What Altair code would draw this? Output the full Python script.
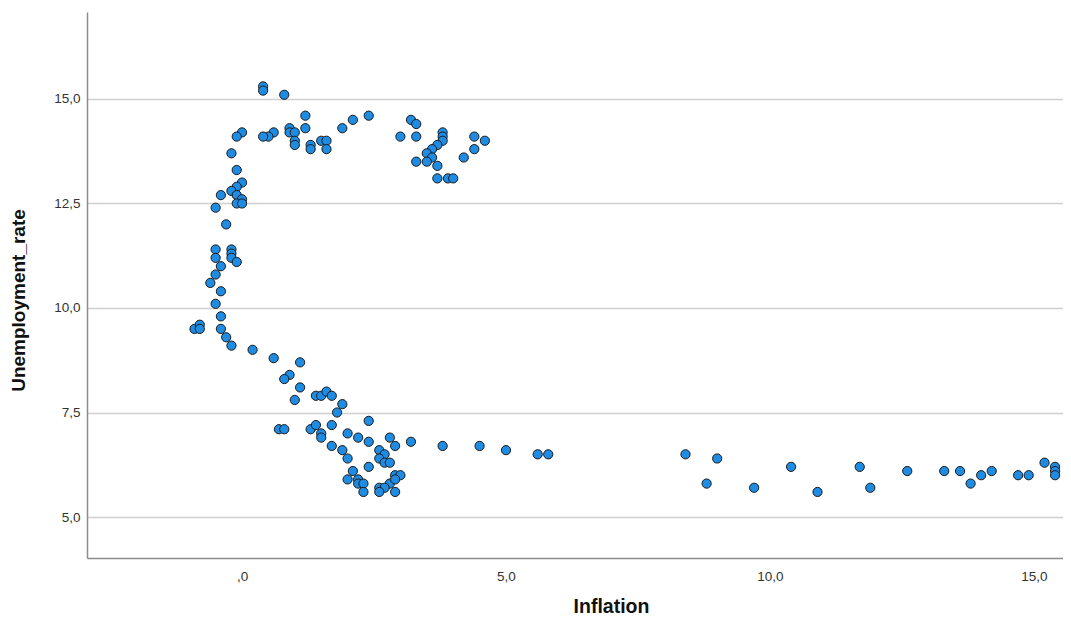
import altair as alt
import pandas as pd

inflation = [
    0.4, 0.4, 0.8,
    1.2, 1.2, 0.9, 0.9, 1.0, 1.0, 1.0,
    0.6, 0.5, 0.4, 0.0, -0.1,
    1.3, 1.3, 1.5, 1.6, 1.6,
    1.9, 2.1, 2.4,
    -0.2, -0.1, 0.0, -0.1, -0.2, -0.4, -0.1, 0.0, -0.1, 0.0,
    -0.5, -0.3,
    -0.5, -0.5, -0.2, -0.2, -0.2, -0.1,
    -0.4, -0.5, -0.6, -0.4, -0.5, -0.4,
    -0.9, -0.8, -0.8, -0.4, -0.3, -0.2, 0.2,
    0.6, 1.1, 0.9, 0.8, 1.1, 1.0,
    1.4, 1.5, 1.6, 1.7, 1.9, 1.8, 2.4,
    0.7, 0.8, 1.3, 1.4, 1.5, 1.5, 1.7,
    2.0, 2.2, 2.4, 2.8, 2.9, 3.2,
    1.7, 1.9, 2.0,
    2.6, 2.7, 2.6, 2.7, 2.8,
    2.4, 2.1, 2.0, 2.2, 2.2, 2.3, 2.3,
    2.9, 3.0, 2.8, 2.9, 2.6, 2.7, 2.6, 2.9,
    3.2, 3.3, 3.0, 3.3, 3.8, 3.8, 3.8, 3.7, 3.6, 3.5, 3.6, 3.3, 3.5, 3.7,
    3.7, 3.9, 4.0, 4.2, 4.4, 4.6, 4.4,
    3.8, 4.5, 5.0, 5.6, 5.8, 8.4, 9.0, 8.8,
    9.7, 10.4, 10.9, 11.7, 11.9, 12.6, 13.3, 13.6, 13.8, 14.0, 14.2,
    14.7, 14.9, 15.2, 15.4, 15.4, 15.4,
]

unemployment_rate = [
    15.3, 15.2, 15.1,
    14.6, 14.3, 14.3, 14.2, 14.2, 14.0, 13.9,
    14.2, 14.1, 14.1, 14.2, 14.1,
    13.9, 13.8, 14.0, 14.0, 13.8,
    14.3, 14.5, 14.6,
    13.7, 13.3, 13.0, 12.9, 12.8, 12.7, 12.7, 12.6, 12.5, 12.5,
    12.4, 12.0,
    11.4, 11.2, 11.4, 11.3, 11.2, 11.1,
    11.0, 10.8, 10.6, 10.4, 10.1, 9.8,
    9.5, 9.6, 9.5, 9.5, 9.3, 9.1, 9.0,
    8.8, 8.7, 8.4, 8.3, 8.1, 7.8,
    7.9, 7.9, 8.0, 7.9, 7.7, 7.5, 7.3,
    7.1, 7.1, 7.1, 7.2, 7.0, 6.9, 7.2,
    7.0, 6.9, 6.8, 6.9, 6.7, 6.8,
    6.7, 6.6, 6.4,
    6.6, 6.5, 6.4, 6.3, 6.3,
    6.2, 6.1, 5.9, 5.9, 5.8, 5.8, 5.6,
    6.0, 6.0, 5.8, 5.9, 5.7, 5.7, 5.6, 5.6,
    14.5, 14.4, 14.1, 14.1, 14.2, 14.1, 14.0, 13.9, 13.8, 13.7, 13.6, 13.5, 13.5, 13.4,
    13.1, 13.1, 13.1, 13.6, 14.1, 14.0, 13.8,
    6.7, 6.7, 6.6, 6.5, 6.5, 6.5, 6.4, 5.8,
    5.7, 6.2, 5.6, 6.2, 5.7, 6.1, 6.1, 6.1, 5.8, 6.0, 6.1,
    6.0, 6.0, 6.3, 6.2, 6.1, 6.0,
]

x_ticks = [0, 5, 10, 15]
y_ticks = [5, 7.5, 10, 12.5, 15]

df = pd.DataFrame({"Inflation": inflation, "Unemployment_rate": unemployment_rate})

label_expr = "datum.value == 0 ? ',0' : replace(format(datum.value, '.1f'), '.', ',')"
FONT = "Liberation Sans"

chart = (
    alt.Chart(df)
    .mark_circle(size=85, color="#1e8ce3", opacity=1, stroke="#1a1a1a", strokeWidth=1)
    .encode(
        x=alt.X(
            "Inflation:Q",
            scale=alt.Scale(domain=[-2.936, 15.55], nice=False, zero=False),
            axis=alt.Axis(
                values=x_ticks,
                labelExpr=label_expr,
                grid=False,
                ticks=False,
                tickSize=0,
                labelPadding=11,
                labelFontSize=13.5,
                labelColor="#333333",
                labelFont=FONT,
                domainColor="#8c8c8c",
                domainWidth=1.5,
                title="Inflation",
                titleFont=FONT,
                titleFontSize=19.5,
                titleFontWeight="bold",
                titleColor="#111111",
                titleAlign="center",
                titleBaseline="alphabetic",
                titleAnchor="start",
                titleX=524,
                titleY=54,
            ),
        ),
        y=alt.Y(
            "Unemployment_rate:Q",
            scale=alt.Scale(domain=[4.02, 17.08], nice=False, zero=False),
            axis=alt.Axis(
                values=y_ticks,
                labelExpr=label_expr,
                grid=True,
                gridColor="#cfcfcf",
                gridWidth=1.5,
                ticks=False,
                tickSize=0,
                labelPadding=7,
                labelFontSize=13.5,
                labelColor="#333333",
                labelFont=FONT,
                domainColor="#8c8c8c",
                domainWidth=1.5,
                title="Unemployment_rate",
                titleFont=FONT,
                titleFontSize=19,
                titleFontWeight="bold",
                titleColor="#111111",
                titleAngle=270,
                titleAlign="center",
                titleBaseline="alphabetic",
                titleAnchor="start",
                titleX=-63,
                titleY=288,
            ),
        ),
    )
    .properties(
        width=976,
        height=546,
        autosize=alt.AutoSizeParams(type="none"),
        padding={"left": 79, "top": 4, "right": 0, "bottom": 60},
        background="white",
    )
    .configure_view(stroke=None)
)

chart.save("out.html", embed_options={"renderer": "svg", "actions": False})
